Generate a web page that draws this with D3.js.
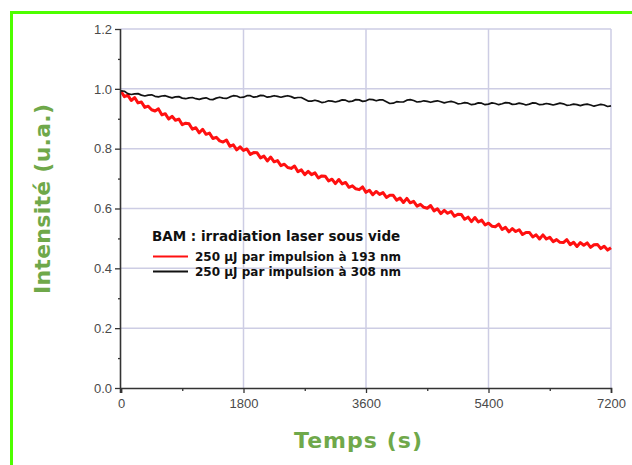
<!DOCTYPE html>
<html>
<head>
<meta charset="utf-8">
<script src="https://cdn.jsdelivr.net/npm/d3@7"></script>
<style>
  body { margin: 0; background: #fff; }
  svg { display: block; }
</style>
</head>
<body>
<svg id="chart"></svg>
<script>
// time step of the traces (s)
const step = 50;

// 250 µJ at 193 nm
const red193 = [
  0.992, 0.974, 0.979, 0.961, 0.971, 0.953, 0.956, 0.938, 0.942, 0.930,
  0.926, 0.933, 0.913, 0.917, 0.899, 0.908, 0.895, 0.899, 0.880, 0.885,
  0.883, 0.865, 0.870, 0.853, 0.865, 0.848, 0.852, 0.834, 0.838, 0.826,
  0.822, 0.829, 0.808, 0.813, 0.796, 0.806, 0.794, 0.799, 0.781, 0.787,
  0.786, 0.769, 0.775, 0.759, 0.772, 0.756, 0.760, 0.743, 0.748, 0.737,
  0.734, 0.742, 0.723, 0.729, 0.713, 0.724, 0.713, 0.719, 0.702, 0.709,
  0.708, 0.692, 0.698, 0.683, 0.697, 0.682, 0.687, 0.671, 0.676, 0.666,
  0.663, 0.672, 0.654, 0.661, 0.646, 0.657, 0.647, 0.653, 0.637, 0.644,
  0.644, 0.628, 0.635, 0.620, 0.634, 0.619, 0.624, 0.608, 0.614, 0.604,
  0.601, 0.610, 0.592, 0.599, 0.583, 0.594, 0.584, 0.590, 0.574, 0.581,
  0.580, 0.564, 0.571, 0.556, 0.570, 0.555, 0.561, 0.545, 0.551, 0.541,
  0.539, 0.548, 0.530, 0.537, 0.522, 0.533, 0.523, 0.529, 0.513, 0.520,
  0.520, 0.505, 0.512, 0.498, 0.512, 0.498, 0.504, 0.489, 0.496, 0.487,
  0.486, 0.496, 0.479, 0.487, 0.473, 0.486, 0.477, 0.485, 0.470, 0.479,
  0.480, 0.466, 0.474, 0.461, 0.469
];

// 250 µJ at 308 nm
const black308 = [
  0.993, 0.992, 0.984, 0.981, 0.983, 0.984, 0.979, 0.976, 0.979, 0.980,
  0.975, 0.973, 0.976, 0.977, 0.973, 0.970, 0.973, 0.974, 0.969, 0.967,
  0.970, 0.971, 0.967, 0.965, 0.968, 0.970, 0.965, 0.964, 0.969, 0.972,
  0.969, 0.968, 0.973, 0.977, 0.976, 0.971, 0.972, 0.977, 0.977, 0.972,
  0.974, 0.978, 0.977, 0.972, 0.974, 0.977, 0.975, 0.972, 0.975, 0.977,
  0.974, 0.969, 0.971, 0.971, 0.965, 0.959, 0.959, 0.962, 0.959, 0.954,
  0.956, 0.960, 0.959, 0.956, 0.959, 0.963, 0.962, 0.957, 0.959, 0.964,
  0.963, 0.958, 0.960, 0.965, 0.964, 0.960, 0.963, 0.963, 0.957, 0.951,
  0.952, 0.957, 0.956, 0.956, 0.962, 0.964, 0.961, 0.956, 0.957, 0.960,
  0.958, 0.955, 0.958, 0.960, 0.957, 0.953, 0.956, 0.958, 0.955, 0.950,
  0.951, 0.954, 0.952, 0.947, 0.949, 0.953, 0.952, 0.947, 0.949, 0.953,
  0.951, 0.947, 0.950, 0.954, 0.953, 0.948, 0.949, 0.952, 0.950, 0.946,
  0.949, 0.953, 0.952, 0.947, 0.948, 0.951, 0.949, 0.946, 0.949, 0.952,
  0.950, 0.945, 0.946, 0.949, 0.947, 0.944, 0.947, 0.949, 0.946, 0.942,
  0.945, 0.948, 0.946, 0.941, 0.943
];

const xTicks = [0, 1800, 3600, 5400, 7200];
const yTicks = [0.0, 0.2, 0.4, 0.6, 0.8, 1.0, 1.2];
const legendTitle = "BAM : irradiation laser sous vide";
const legendItems = ["250 µJ par impulsion à 193 nm", "250 µJ par impulsion à 308 nm"];

const width = 632, height = 465;
const m = { left: 121, right: 21, top: 29, bottom: 77 };

const svg = d3.select("#chart").attr("width", width).attr("height", height);

// green frame (top and left)
svg.append("path")
  .attr("d", `M11.5,${height} V12.5 H${width}`)
  .attr("fill", "none")
  .attr("stroke", "#4dff00")
  .attr("stroke-width", 3);

const x = d3.scaleLinear().domain([0, 7200]).range([m.left, width - m.right]);
const y = d3.scaleLinear().domain([0, 1.2]).range([height - m.bottom, m.top]);

// grid
svg.append("g")
  .selectAll("line")
  .data(xTicks.slice(1))
  .enter()
  .append("line")
  .attr("x1", (d) => x(d)).attr("x2", (d) => x(d))
  .attr("y1", y(0)).attr("y2", y(1.2))
  .attr("stroke", "#cdcde4")
  .attr("stroke-width", 1.5);

svg.append("g")
  .selectAll("line")
  .data(yTicks.slice(1))
  .enter()
  .append("line")
  .attr("x1", x(0)).attr("x2", x(7200))
  .attr("y1", (d) => y(d)).attr("y2", (d) => y(d))
  .attr("stroke", "#cdcde4")
  .attr("stroke-width", 1.5);

// traces
const line = d3.line()
  .x((d, i) => x(i * step))
  .y((d) => y(d));

svg.append("path")
  .datum(red193)
  .attr("fill", "none")
  .attr("stroke", "#ff1010")
  .attr("stroke-width", 3)
  .attr("stroke-linejoin", "round")
  .attr("d", line);

svg.append("path")
  .datum(black308)
  .attr("fill", "none")
  .attr("stroke", "#111")
  .attr("stroke-width", 1.7)
  .attr("stroke-linejoin", "round")
  .attr("d", line);

// axes
const xAxis = d3.axisBottom(x)
  .tickValues(d3.range(0, 7201, 900))
  .tickSize(5)
  .tickFormat((d) => (xTicks.includes(d) ? d : ""));

const yAxis = d3.axisLeft(y)
  .tickValues(d3.range(0, 13).map((i) => i / 10))
  .tickSize(6)
  .tickFormat((d) => (Math.round(d * 10) % 2 === 0 ? d3.format(".1f")(d) : ""));

const gx = svg.append("g")
  .attr("transform", "translate(0," + y(0) + ")")
  .call(xAxis);

const gy = svg.append("g")
  .attr("transform", "translate(" + x(0) + ",0)")
  .call(yAxis);

[gx, gy].forEach((g) => {
  g.select(".domain").attr("stroke", "#333").attr("stroke-width", 1.6);
  g.selectAll(".tick line").attr("stroke", "#333").attr("stroke-width", 1.3);
  g.selectAll(".tick text")
    .attr("fill", "#4a4a4a")
    .style("font-family", "Liberation Sans, Arial, sans-serif")
    .style("font-size", "13px");
});
gx.selectAll(".tick text").attr("dy", "0.95em");
gx.selectAll(".tick").filter((d) => !xTicks.includes(d)).select("line").attr("y2", 3);
gy.selectAll(".tick").filter((d) => Math.round(d * 10) % 2 === 1).select("line").attr("x2", -3);
gy.select(".domain").attr("d", `M-0.5,${y(0) + 5}V${y(1.2)}`);

// axis titles
svg.append("text")
  .attr("x", 358)
  .attr("y", 448)
  .attr("text-anchor", "middle")
  .attr("textLength", 128)
  .attr("lengthAdjust", "spacing")
  .attr("fill", "#6fa84a")
  .style("font-family", "DejaVu Sans, sans-serif")
  .style("font-weight", "bold")
  .style("font-size", "22px")
  .text("Temps (s)");

svg.append("text")
  .attr("transform", "translate(50,199) rotate(-90)")
  .attr("text-anchor", "middle")
  .attr("textLength", 190)
  .attr("lengthAdjust", "spacing")
  .attr("fill", "#6fa84a")
  .style("font-family", "DejaVu Sans, sans-serif")
  .style("font-weight", "bold")
  .style("font-size", "22px")
  .text("Intensité (u.a.)");

// legend
const legend = svg.append("g");
legend.append("text")
  .attr("x", 152)
  .attr("y", 241)
  .attr("fill", "#111")
  .style("font-family", "DejaVu Sans, sans-serif")
  .style("font-weight", "bold")
  .style("font-size", "13.5px")
  .text(legendTitle);

legend.selectAll("line")
  .data(legendItems)
  .enter()
  .append("line")
  .attr("x1", 153).attr("x2", 188)
  .attr("y1", (d, i) => 256.5 + i * 15)
  .attr("y2", (d, i) => 256.5 + i * 15)
  .attr("stroke", (d, i) => (i === 0 ? "#ff1010" : "#111"))
  .attr("stroke-width", 2);

legend.selectAll("text.item")
  .data(legendItems)
  .enter()
  .append("text")
  .attr("class", "item")
  .attr("x", 195)
  .attr("y", (d, i) => 260.5 + i * 15)
  .attr("fill", "#111")
  .style("font-family", "DejaVu Sans, sans-serif")
  .style("font-weight", "bold")
  .style("font-size", "12px")
  .text((d) => d);
</script>
</body>
</html>
